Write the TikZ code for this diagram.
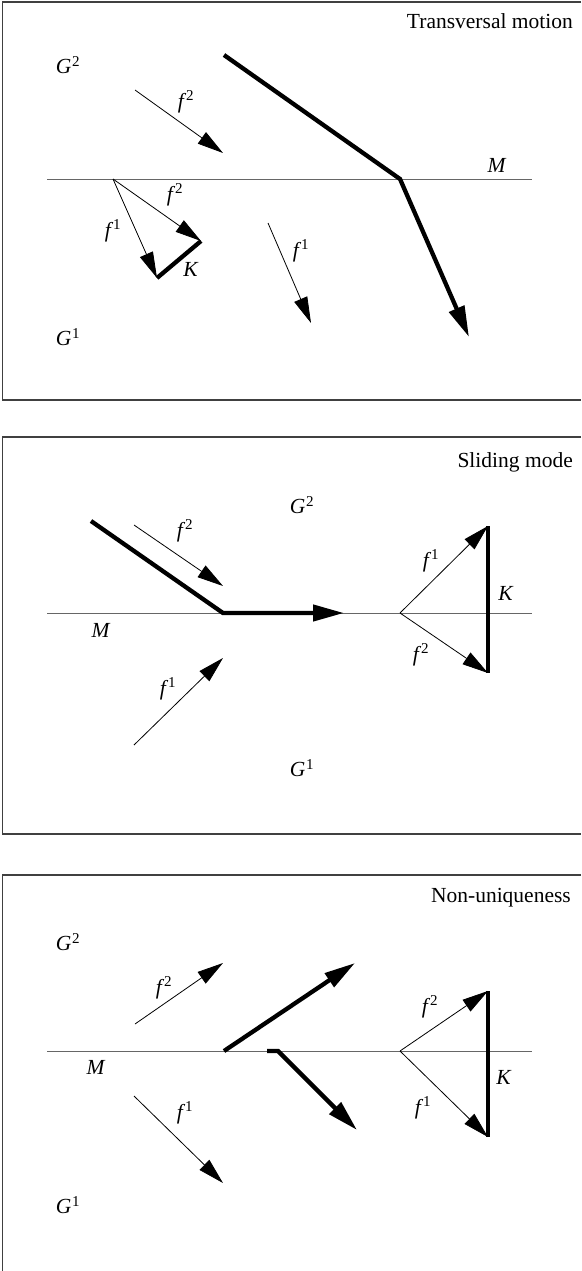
\documentclass[tikz,border=0pt]{standalone}
\usepackage{fontspec}
\setmainfont{Liberation Serif}
\usetikzlibrary{arrows.meta}
\newcommand{\lab}[2]{{\itshape #1}\kern0.5pt\textsuperscript{#2}}
\newcommand{\flab}[1]{{\itshape f}\kern2.5pt\textsuperscript{#1}}
\tikzset{
  txt/.style={inner sep=0pt, font=\fontsize{21.5}{26}\selectfont},
  frame/.style={draw=black!75, line width=1.1pt},
  mline/.style={draw=black!60, line width=1pt},
  thin/.style={draw=black, line width=0.8pt, -{Triangle[length=26pt,width=14pt]}},
  thick/.style={draw=black, line width=4.3pt, line join=miter},
  thickarr/.style={thick, -{Triangle[length=31pt,width=16pt]}},
}
\begin{document}
\begin{tikzpicture}[x=1pt,y=-1pt]
\useasboundingbox (0,0) rectangle (581,1271);
% ---------- frames ----------
\draw[frame] (581,2) -- (2.5,2) -- (2.5,400) -- (581,400);
\draw[frame] (581,437) -- (2.5,437) -- (2.5,834) -- (581,834);
\draw[frame] (581,875) -- (2.5,875) -- (2.5,1271);

% ---------- panel 1: transversal motion ----------
\node[txt, anchor=base east] (t1) at (573,29) {Transversal motion};
\node[txt] (g2a) at (68,65) {\lab{G}{2}};
\node[txt] (g1a) at (68,337) {\lab{G}{1}};
\coordinate (m1l) at (47,179); \coordinate (m1r) at (532,179);
\draw[mline] (m1l) -- (m1r);
\node[txt] (ma) at (497,165) {\textit{M}};
\coordinate (a2s) at (135,90); \coordinate (a2e) at (223,153);
\draw[thin] (a2s) -- (a2e);
\node[txt] (fa2) at (186,102) {\flab{2}};
\coordinate (tr1) at (224,55); \coordinate (tr2) at (400,179); \coordinate (tr3) at (469,337);
\draw[thickarr] (tr1) -- (tr2) -- (tr3);
\coordinate (p1) at (113,179); \coordinate (p1a) at (157,278); \coordinate (p1b) at (201,241);
\draw[thin] (p1) -- (p1a);
\draw[thin] (p1) -- (p1b);
\draw[thick] (p1b) -- (p1a);
\node[txt] (fa1t) at (113,231) {\flab{1}};
\node[txt] (fa2t) at (175,195) {\flab{2}};
\node[txt] (ka) at (191,269) {\textit{K}};
\coordinate (a1s) at (268,223); \coordinate (a1e) at (311,323);
\draw[thin] (a1s) -- (a1e);
\node[txt] (fa1) at (301,251) {\flab{1}};

% ---------- panel 2: sliding mode ----------
\node[txt, anchor=base east] (t2) at (573,467) {Sliding mode};
\node[txt] (g2b) at (302,505) {\lab{G}{2}};
\node[txt] (g1b) at (302,768) {\lab{G}{1}};
\coordinate (m2l) at (47,613); \coordinate (m2r) at (532,613);
\draw[mline] (m2l) -- (m2r);
\node[txt] (mb) at (101,630) {\textit{M}};
\coordinate (s1) at (91,521); \coordinate (s2) at (223,613); \coordinate (s3) at (344,613);
\draw[thickarr] (s1) -- (s2) -- (s3);
\coordinate (b2s) at (134,525); \coordinate (b2e) at (223,586);
\draw[thin] (b2s) -- (b2e);
\node[txt] (fb2) at (185,531) {\flab{2}};
\coordinate (b1s) at (134,745); \coordinate (b1e) at (223,658);
\draw[thin] (b1s) -- (b1e);
\node[txt] (fb1) at (168,689) {\flab{1}};
\coordinate (p2) at (400,613); \coordinate (p2a) at (488,526); \coordinate (p2b) at (488,673);
\draw[thin] (p2) -- (p2a);
\draw[thin] (p2) -- (p2b);
\draw[thick] (p2a) -- (p2b);
\node[txt] (fb1t) at (431,561) {\flab{1}};
\node[txt] (fb2t) at (421,655) {\flab{2}};
\node[txt] (kb) at (506,593) {\textit{K}};

% ---------- panel 3: non-uniqueness ----------
\node[txt, anchor=base east] (t3) at (571,902) {Non-uniqueness};
\node[txt] (g2c) at (68,942) {\lab{G}{2}};
\node[txt] (g1c) at (68,1205) {\lab{G}{1}};
\coordinate (m3l) at (47,1051); \coordinate (m3r) at (532,1051);
\draw[mline] (m3l) -- (m3r);
\node[txt] (mc) at (96,1067) {\textit{M}};
\coordinate (c2s) at (135,1024); \coordinate (c2e) at (223,963);
\draw[thin] (c2s) -- (c2e);
\node[txt] (fc2) at (164,988) {\flab{2}};
\coordinate (c1s) at (134,1096); \coordinate (c1e) at (223,1183);
\draw[thin] (c1s) -- (c1e);
\node[txt] (fc1) at (185,1113) {\flab{1}};
\coordinate (u1) at (224,1051); \coordinate (u2) at (355,963);
\draw[thickarr] (u1) -- (u2);
\coordinate (v1) at (267,1051); \coordinate (v2) at (278,1051); \coordinate (v3) at (357,1130);
\draw[thickarr] (v1) -- (v2) -- (v3);
\coordinate (p3) at (400,1051); \coordinate (p3a) at (488,991); \coordinate (p3b) at (488,1137);
\draw[thin] (p3) -- (p3a);
\draw[thin] (p3) -- (p3b);
\draw[thick] (p3a) -- (p3b);
\node[txt] (fc2t) at (430,1007) {\flab{2}};
\node[txt] (fc1t) at (423,1108) {\flab{1}};
\node[txt] (kc) at (504,1077) {\textit{K}};
\end{tikzpicture}
\end{document}
